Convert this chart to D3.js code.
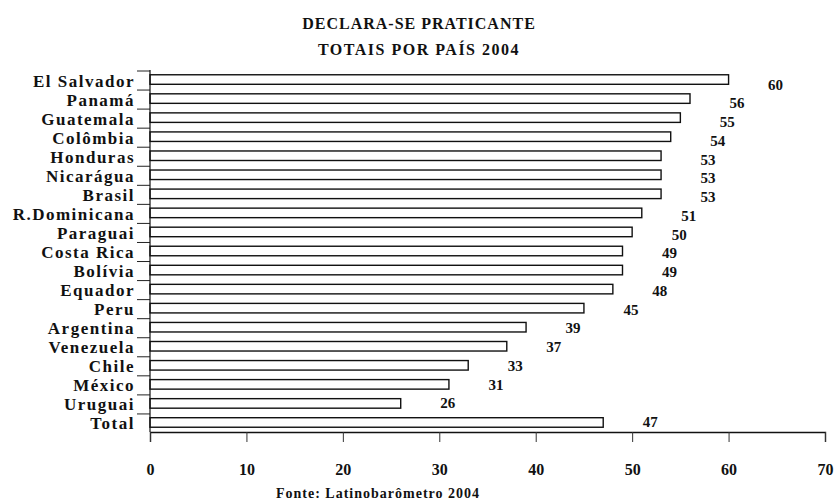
<!DOCTYPE html>
<html>
<head>
<meta charset="utf-8">
<script src="https://cdn.jsdelivr.net/npm/d3@7"></script>
<style>
  body { margin: 0; background: #fff; }
  text { font-family: "Liberation Serif", "DejaVu Serif", serif; font-weight: bold; fill: #111; }
</style>
</head>
<body>
<div id="plot"></div>
<script>
// data
const countries = ["El Salvador", "Panamá", "Guatemala", "Colômbia", "Honduras", "Nicarágua",
  "Brasil", "R.Dominicana", "Paraguai", "Costa Rica", "Bolívia", "Equador", "Peru",
  "Argentina", "Venezuela", "Chile", "México", "Uruguai", "Total"];
const values = [60, 56, 55, 54, 53, 53, 53, 51, 50, 49, 49, 48, 45, 39, 37, 33, 31, 26, 47];
const xTicks = [0, 10, 20, 30, 40, 50, 60, 70];
const titles = ["DECLARA-SE PRATICANTE", "TOTAIS POR PAÍS 2004"];
const source = "Fonte: Latinobarômetro 2004";

window.addEventListener("load", main)

function main(){
  const width = 834, height = 504;
  const left = 150, right = 825, top = 70, bottom = 432;

  let svg = d3.select("#plot").append("svg")
    .attr("width", width)
    .attr("height", height);

  let x = d3.scaleLinear().domain([0, 70]).range([left, right]);
  let y = d3.scaleBand().domain(countries).range([top, bottom])
    .paddingInner(0.5).paddingOuter(0.25);

  // titles
  svg.selectAll("text.title")
    .data(titles)
    .join("text")
    .attr("class", "title")
    .attr("x", 419)
    .attr("y", (d, i) => 29 + i * 26)
    .attr("text-anchor", "middle")
    .style("font-size", "16px")
    .style("letter-spacing", (d, i) => i ? "1.5px" : "1px")
    .text(d => d);

  // bars
  svg.append("g")
    .selectAll("rect")
    .data(values)
    .join("rect")
    .attr("x", x(0))
    .attr("y", (d, i) => y(countries[i]))
    .attr("width", d => x(d) - x(0))
    .attr("height", y.bandwidth())
    .attr("fill", "#fff")
    .attr("stroke", "#111")
    .attr("stroke-width", 1.4);

  // value labels, set off to the right and drifting a little below the bar
  svg.append("g")
    .selectAll("text")
    .data(values)
    .join("text")
    .attr("x", d => x(d) + 47)
    .attr("y", (d, i) => y(countries[i]) + y.bandwidth() / 2 + 10 - 0.3 * i)
    .attr("text-anchor", "middle")
    .style("font-size", "15px")
    .text(d => d);

  // category labels
  svg.append("g")
    .selectAll("text")
    .data(countries)
    .join("text")
    .attr("x", 135)
    .attr("y", d => y(d) + y.bandwidth() / 2 + 7)
    .attr("text-anchor", "end")
    .style("font-size", "17px")
    .style("letter-spacing", "1.5px")
    .text(d => d);

  // small category ticks at band boundaries
  svg.append("g")
    .selectAll("line")
    .data(countries)
    .join("line")
    .attr("x1", 137).attr("x2", left)
    .attr("y1", d => y(d) - y.step() * 0.25 + 1)
    .attr("y2", d => y(d) - y.step() * 0.25 + 1)
    .attr("stroke", "#222")
    .attr("stroke-width", 1);

  // vertical axis line
  svg.append("line")
    .attr("x1", left).attr("x2", left)
    .attr("y1", top).attr("y2", bottom)
    .attr("stroke", "#111").attr("stroke-width", 1.2);

  // x axis
  let xAxis = d3.axisBottom(x).tickValues(xTicks).tickSize(10).tickPadding(22);
  let gx = svg.append("g")
    .attr("transform", `translate(0,${bottom})`)
    .call(xAxis);
  gx.select(".domain").attr("stroke", "#111").attr("stroke-width", 1.4);
  gx.selectAll(".tick line").attr("stroke", "#333");
  gx.selectAll(".tick text")
    .style("font-family", "'Liberation Serif', serif")
    .style("font-weight", "bold")
    .style("font-size", "16px")
    .attr("fill", "#111");

  // source
  svg.append("text")
    .attr("x", 378)
    .attr("y", 498)
    .attr("text-anchor", "middle")
    .style("font-size", "14px")
    .style("letter-spacing", "1px")
    .text(source);
}
</script>
</body>
</html>
